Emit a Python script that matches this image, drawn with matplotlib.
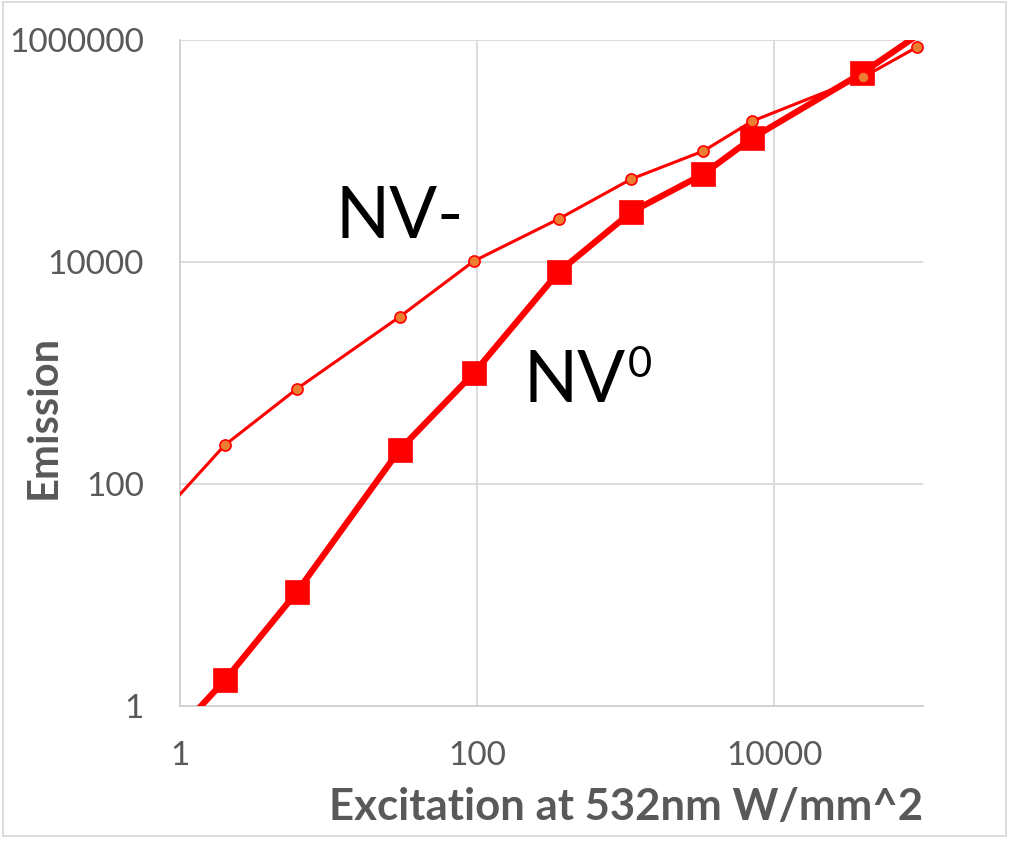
import matplotlib
matplotlib.use("Agg")
import matplotlib.pyplot as plt
from matplotlib.patches import Rectangle
from matplotlib.ticker import FixedLocator, NullLocator, FixedFormatter

# ---- data ----
nvm_x = [0.5, 2.0, 6.1, 30, 95, 353, 1090, 3330, 7110, 39700, 91500]
nvm_y = [29, 224, 718, 3200, 10200, 24400, 56000, 100000, 186000, 464000, 865000]

nv0_x = [0.5, 2.0, 6.1, 30, 95, 353, 1090, 3330, 7110, 39000, 91500]
nv0_y = [0.23, 1.7, 10.6, 203, 1000, 8130, 28200, 62000, 131000, 505000, 1100000]

x_ticks = [1, 100, 10000]
x_tick_labels = ["1", "100", "10000"]
y_ticks = [1, 100, 10000, 1000000]
y_tick_labels = ["1", "100", "10000", "1000000"]

W, H = 1012, 843
GRAY = "#595959"
FONT = "Lato"

fig = plt.figure(figsize=(W / 100, H / 100), dpi=100)

def fx(px):
    return px / W

def fy(py):
    return 1 - py / H

ax = fig.add_axes([fx(180), fy(706), fx(923) - fx(180), fy(40) - fy(706)])
ax.set_xscale("log")
ax.set_yscale("log")
ax.set_xlim(1, 100000)
ax.set_ylim(1, 1000000)

ax.xaxis.set_major_locator(FixedLocator(x_ticks))
ax.xaxis.set_major_formatter(FixedFormatter(x_tick_labels))
ax.yaxis.set_major_locator(FixedLocator(y_ticks))
ax.yaxis.set_major_formatter(FixedFormatter(y_tick_labels))
ax.xaxis.set_minor_locator(NullLocator())
ax.yaxis.set_minor_locator(NullLocator())

ax.grid(True, which="major", color="#D9D9D9", linewidth=1.3, zorder=0)
for s in ["top", "right"]:
    ax.spines[s].set_visible(False)
for s in ["left", "bottom"]:
    ax.spines[s].set_color("#D0D0D0")
    ax.spines[s].set_linewidth(1.3)

ax.tick_params(axis="both", length=0, labelsize=24, labelcolor=GRAY)
ax.tick_params(axis="x", pad=25)
ax.tick_params(axis="y", pad=26)
for lab in ax.get_xticklabels() + ax.get_yticklabels():
    lab.set_fontfamily(FONT)

shown = list(range(1, len(nv0_x) - 1))

# NV0 (squares, thick)
ax.plot(nv0_x, nv0_y, color="#FF0000", linewidth=4.5, marker="s",
        markersize=17, markerfacecolor="#FF0000", markeredgecolor="#FF0000",
        markeredgewidth=0.5, markevery=shown, zorder=3)
# NV- (small orange circles, thin)
ax.plot(nvm_x, nvm_y, color="#FF0000", linewidth=2.2, marker="o",
        markersize=8, markerfacecolor="#ED7D31", markeredgecolor="#FF0000",
        markeredgewidth=1.2, markevery=list(range(1, len(nvm_x))), zorder=4)

# in-plot labels
fig.text(fx(336), fy(238), "NV-", fontsize=51, fontfamily=FONT, color="black",
         ha="left", va="baseline")
fig.text(fx(523), fy(402), "NV", fontsize=51, fontfamily=FONT, color="black",
         ha="left", va="baseline")
fig.text(fx(628), fy(377), "0", fontsize=30, fontfamily=FONT, color="black",
         ha="left", va="baseline")

# axis titles
fig.text(fx(923), fy(820), "Excitation at 532nm W/mm^2", fontsize=31.5,
         fontfamily=FONT, fontweight="bold", color=GRAY, ha="right", va="baseline")
fig.text(fx(44), fy(417), "Emission", fontsize=30, fontfamily=FONT,
         fontweight="bold", color=GRAY, rotation=90, ha="center", va="center")

# outer border
fig.patches.append(Rectangle((fx(3), fy(836)), fx(1006) - fx(3), fy(2) - fy(836),
                             transform=fig.transFigure, fill=False,
                             edgecolor="#D9D9D9", linewidth=1.3))

fig.savefig("out.png", dpi=100)
